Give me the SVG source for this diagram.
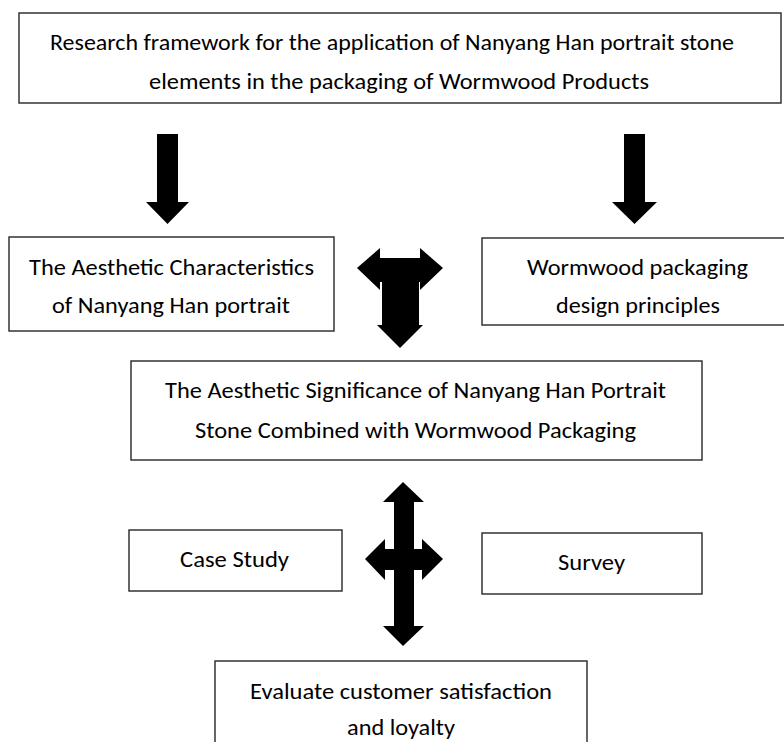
<svg xmlns="http://www.w3.org/2000/svg" width="784" height="742" viewBox="0 0 784 742">
<style>
.box{fill:#fff;stroke:#262626;stroke-width:1.4}
.t{font-family:Carlito,Lato,"Liberation Sans",sans-serif;font-size:22px;fill:#000}
.arr{fill:#000}
</style>
<rect x="0" y="0" width="784" height="742" fill="#fff"/>
<g id="n-top">
<rect class="box" x="19" y="13" width="762" height="90"/>
<text class="t" x="50" y="50" textLength="684" lengthAdjust="spacingAndGlyphs">Research framework for the application of Nanyang Han portrait stone</text>
<text class="t" x="149" y="89" textLength="500" lengthAdjust="spacingAndGlyphs">elements in the packaging of Wormwood Products</text>
</g>
<g id="n-aesthetic">
<rect class="box" x="9" y="237" width="325" height="94"/>
<text class="t" x="29" y="275" textLength="285" lengthAdjust="spacingAndGlyphs">The Aesthetic Characteristics</text>
<text class="t" x="52" y="313" textLength="238" lengthAdjust="spacingAndGlyphs">of Nanyang Han portrait</text>
</g>
<g id="n-principles">
<rect class="box" x="482" y="238" width="320" height="87"/>
<text class="t" x="527" y="275" textLength="221" lengthAdjust="spacingAndGlyphs">Wormwood packaging</text>
<text class="t" x="556" y="313" textLength="164" lengthAdjust="spacingAndGlyphs">design principles</text>
</g>
<g id="n-significance">
<rect class="box" x="131" y="361" width="571" height="99"/>
<text class="t" x="165" y="398" textLength="501" lengthAdjust="spacingAndGlyphs">The Aesthetic Significance of Nanyang Han Portrait</text>
<text class="t" x="195" y="438" textLength="441" lengthAdjust="spacingAndGlyphs">Stone Combined with Wormwood Packaging</text>
</g>
<g id="n-case">
<rect class="box" x="129" y="530" width="213" height="61"/>
<text class="t" x="180" y="567" textLength="109" lengthAdjust="spacingAndGlyphs">Case Study</text>
</g>
<g id="n-survey">
<rect class="box" x="482" y="533" width="220" height="61"/>
<text class="t" x="558" y="570" textLength="67" lengthAdjust="spacingAndGlyphs">Survey</text>
</g>
<g id="n-evaluate">
<rect class="box" x="215" y="661" width="372" height="100"/>
<text class="t" x="250" y="699" textLength="302" lengthAdjust="spacingAndGlyphs">Evaluate customer satisfaction</text>
<text class="t" x="347" y="735" textLength="108" lengthAdjust="spacingAndGlyphs">and loyalty</text>
</g>
<g id="connectors">
<polygon class="arr" points="157,134 178,134 178,202 189,202 167.5,224 146,202 157,202"/>
<polygon class="arr" points="624,134 645,134 645,202 657,202 634.5,224 612,202 624,202"/>
<polygon class="arr" points="357,268 380,248 380,258 420,258 420,248 443,268 420,290 420,282 419,282 419,325 423,325 400,348 377,325 382,325 382,282 380,282 380,290"/>
<polygon class="arr" points="403,482 424,502 414,502 414,549 422,549 422,539 443,559 422,580 422,570 414,570 414,626 424,626 403,646 383,626 394,626 394,570 385,570 385,580 365,559 385,539 385,549 394,549 394,502 383,502"/>
</g>
</svg>
